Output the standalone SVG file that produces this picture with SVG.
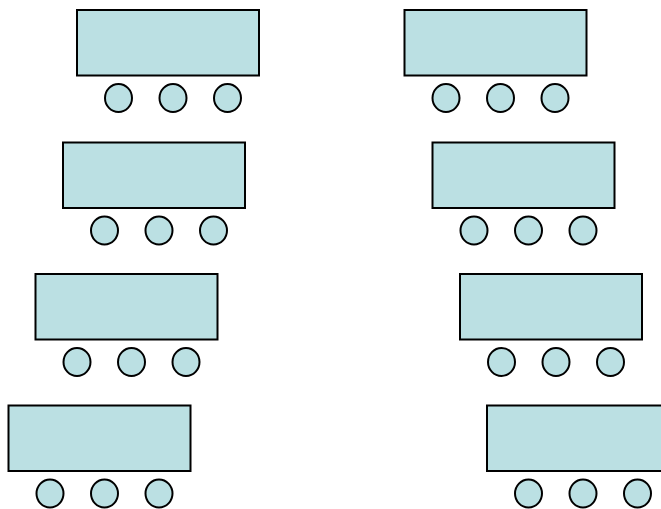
<svg xmlns="http://www.w3.org/2000/svg" width="661" height="509" viewBox="0 0 661 509">
<style>
.t{fill:#bbe0e3;stroke:#000;stroke-width:2}
.c{fill:#bbe0e3;stroke:#000;stroke-width:2}
</style>
<defs>
<g id="desk">
<rect class="t" x="0" y="0" width="182" height="65.5"/>
<ellipse class="c" cx="41.5" cy="88" rx="13.5" ry="14"/>
<ellipse class="c" cx="96" cy="88" rx="13.5" ry="14"/>
<ellipse class="c" cx="150.5" cy="88" rx="13.5" ry="14"/>
</g>
</defs>
<rect width="661" height="509" fill="#fff"/>
<g id="desk-l1"><use href="#desk" x="77" y="10"/></g>
<g id="desk-l2"><use href="#desk" x="63" y="142.5"/></g>
<g id="desk-l3"><use href="#desk" x="35.5" y="274"/></g>
<g id="desk-l4"><use href="#desk" x="8.5" y="405.5"/></g>
<g id="desk-r1"><use href="#desk" x="404.5" y="10"/></g>
<g id="desk-r2"><use href="#desk" x="432.5" y="142.5"/></g>
<g id="desk-r3"><use href="#desk" x="460" y="274"/></g>
<g id="desk-r4"><use href="#desk" x="487" y="405.5"/></g>
<g id="connectors"/>
</svg>
